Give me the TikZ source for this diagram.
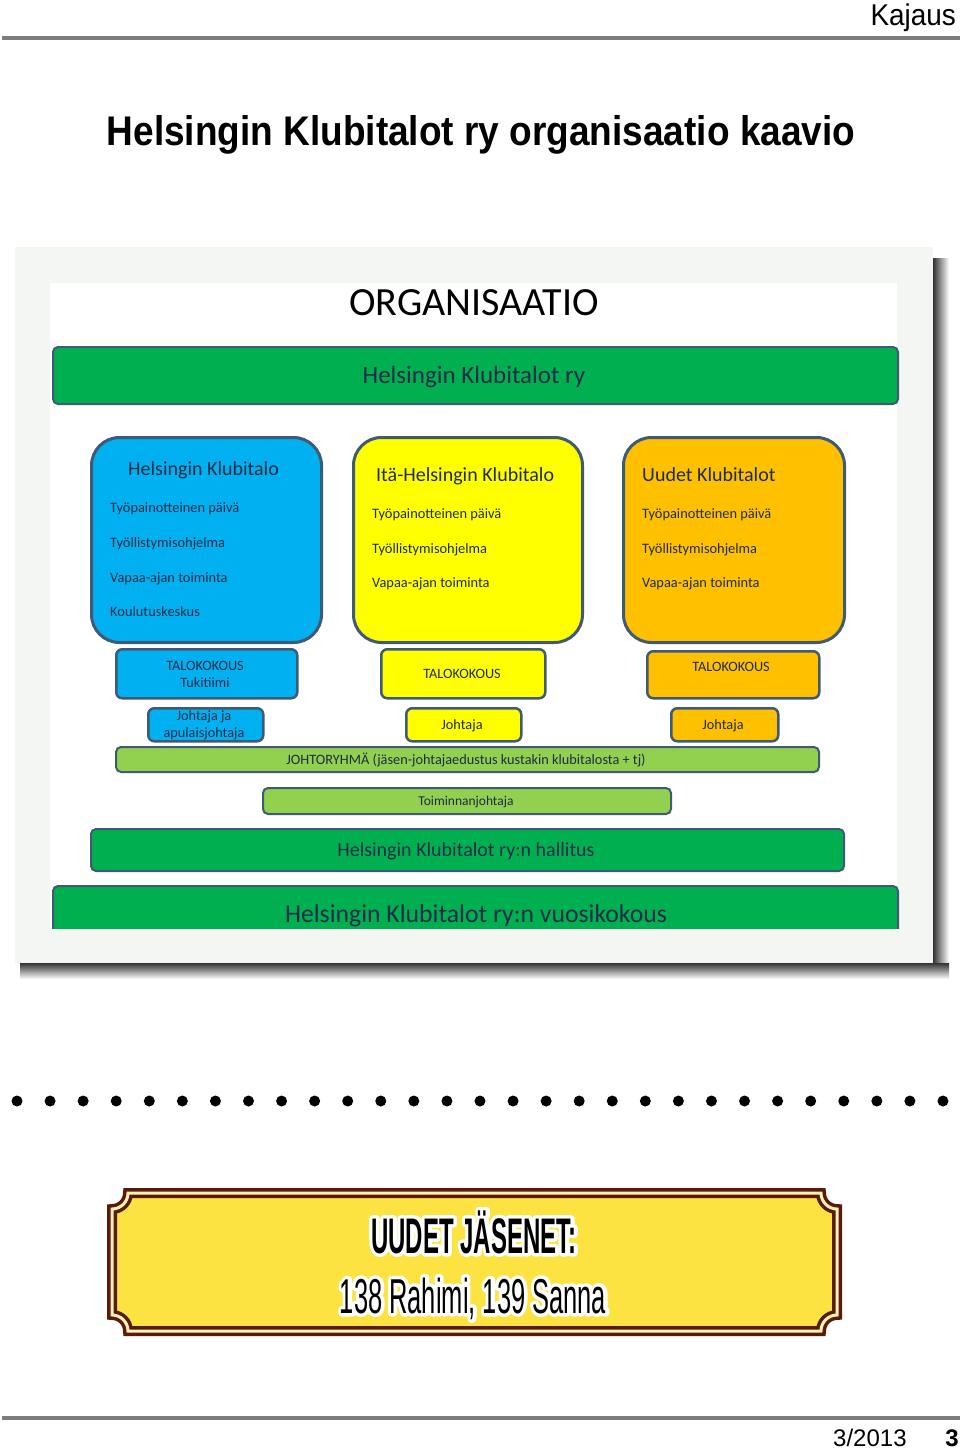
\documentclass[tikz,border=0pt]{standalone}
\usepackage{fontspec}
\setmainfont{Carlito}
\newfontfamily\heros{Liberation Sans}
\newfontfamily\narrowbold[FakeStretch=0.48]{Liberation Sans}
\newfontfamily\narrowsans[FakeStretch=0.52]{Liberation Sans}
\usetikzlibrary{calc}

\definecolor{clubblue}{HTML}{00B0F0}
\definecolor{clubyellow}{HTML}{FFFF00}
\definecolor{cluborange}{HTML}{FFC000}
\definecolor{darkgreen}{HTML}{00B050}
\definecolor{lightgreen}{HTML}{92D050}
\definecolor{edge}{HTML}{3E5A74}
\definecolor{ink}{HTML}{1E2C48}
\definecolor{rulegray}{HTML}{7C7C7C}
\definecolor{paper}{HTML}{F4F6F4}
\definecolor{plaquefill}{HTML}{FDE342}
\definecolor{plaqueedge}{HTML}{5A1A0C}
\definecolor{cream}{HTML}{FFF4B8}

% text with a white outline, set as one box
\newcommand{\haloed}[1]{\rlap{\color{white}\special{pdf:literal direct 1 1 1 RG 7 w 1 j 2 Tr}#1\special{pdf:literal direct 0 Tr}}#1}

\tikzset{
  club/.style={draw=edge, line width=3pt, rounded corners=28pt, anchor=north west, inner sep=0pt},
  meeting/.style={draw=edge, line width=2.5pt, rounded corners=6pt, anchor=north west, inner sep=0pt},
  bar/.style={draw=edge, line width=2pt, rounded corners=5pt, anchor=north west, inner sep=0pt},
  heading/.style={text=ink, font=\fontsize{20}{24}\selectfont, anchor=base west, inner sep=0pt},
  entry/.style={text=ink, font=\fontsize{14.4}{17}\selectfont, anchor=base west, inner sep=0pt},
  small/.style={text=ink, font=\fontsize{14.3}{17}\selectfont, align=center, inner sep=0pt}
}

\begin{document}
\begin{tikzpicture}[x=1pt, y=-1pt]

\useasboundingbox (0,0) rectangle (960,1451);

% Page head
\node[font=\heros\fontsize{30}{30}\selectfont, anchor=base east, inner sep=0pt] (head) at (956,25) {\scalebox{0.93}[1]{Kajaus}};
\draw[rulegray, line width=4pt] (2,38) -- (960,38);
\node[font=\heros\bfseries\fontsize{37}{40}\selectfont, anchor=base, inner sep=0pt] (title) at (481,145)
    {\scalebox{1}[1.12]{Helsingin Klubitalot ry organisaatio kaavio}};

% Shadow and frame
\shade[left color=black!80, right color=white] (933,258) rectangle (949,979);
\shade[top color=black!80, bottom color=white] (20,963) rectangle (949,979);
\fill[paper] (15,247) rectangle (933,963);
\fill[white] (50,283) rectangle (897,928);

\node[font=\fontsize{40}{44}\selectfont, anchor=base, inner sep=0pt] (org) at (474,315) {ORGANISAATIO};

% Top bar
\node[bar, fill=darkgreen, minimum width=845, minimum height=57] (ry) at (52,346) {};
\node[font=\fontsize{25}{28}\selectfont, text=ink, anchor=base, inner sep=0pt] (ryText) at (474,383) {Helsingin Klubitalot ry};

% Club houses
\node[club, fill=clubblue, minimum width=230, minimum height=205] (hk) at (90,436) {};
\node[club, fill=clubyellow, minimum width=229, minimum height=205] (ita) at (352,436) {};
\node[club, fill=cluborange, minimum width=221, minimum height=205] (uudet) at (622,436) {};

\node[heading] (hkTitle) at (128,475) {Helsingin Klubitalo};
\node[entry] (hkA) at (110,512) {Työpainotteinen päivä};
\node[entry] (hkB) at (110,547) {Työllistymisohjelma};
\node[entry] (hkC) at (110,582) {Vapaa-ajan toiminta};
\node[entry] (hkD) at (110,616) {Koulutuskeskus};

\node[heading] (itaTitle) at (376,481) {Itä-Helsingin Klubitalo};
\node[entry] (itaA) at (372,518) {Työpainotteinen päivä};
\node[entry] (itaB) at (372,553) {Työllistymisohjelma};
\node[entry] (itaC) at (372,587) {Vapaa-ajan toiminta};

\node[heading] (uudetTitle) at (642,481) {Uudet Klubitalot};
\node[entry] (uudetA) at (642,518) {Työpainotteinen päivä};
\node[entry] (uudetB) at (642,553) {Työllistymisohjelma};
\node[entry] (uudetC) at (642,587) {Vapaa-ajan toiminta};

% House meetings
\node[meeting, fill=clubblue, minimum width=181, minimum height=49] (hkMeet) at (115,648) {};
\node[meeting, fill=clubyellow, minimum width=164, minimum height=49] (itaMeet) at (380,648) {};
\node[meeting, fill=cluborange, minimum width=172, minimum height=47] (uudetMeet) at (646,650) {};
\node[small] (hkMeetText) at (205,674) {TALOKOKOUS\\Tukitiimi};
\node[small, anchor=base] (itaMeetText) at (462,678) {TALOKOKOUS};
\node[small, anchor=base] (uudetMeetText) at (731,671) {TALOKOKOUS};

% Leaders
\node[meeting, fill=clubblue, minimum width=115, minimum height=33] (hkLead) at (147,707) {};
\node[meeting, fill=clubyellow, minimum width=115, minimum height=33] (itaLead) at (405,707) {};
\node[meeting, fill=cluborange, minimum width=107, minimum height=33] (uudetLead) at (670,707) {};
\node[small] (hkLeadText) at (204,725) {Johtaja ja\\apulaisjohtaja};
\node[small, anchor=base] (itaLeadText) at (462,729) {Johtaja};
\node[small, anchor=base] (uudetLeadText) at (723,729) {Johtaja};

% Common bars
\node[bar, fill=lightgreen, minimum width=703, minimum height=25] (group) at (115,746) {};
\node[small, anchor=base] (groupText) at (466,764) {JOHTORYHMÄ (jäsen-johtajaedustus kustakin klubitalosta + tj)};
\node[bar, fill=lightgreen, minimum width=408, minimum height=26] (boss) at (262,787) {};
\node[small, anchor=base, font=\fontsize{13.5}{16}\selectfont] (bossText) at (466,805) {Toiminnanjohtaja};
\node[bar, fill=darkgreen, minimum width=753, minimum height=42] (board) at (90,828) {};
\node[text=ink, font=\fontsize{20}{24}\selectfont, anchor=base, inner sep=0pt] (boardText) at (466,856) {Helsingin Klubitalot ry:n hallitus};

\begin{scope}
  \clip (50,283) rectangle (899,928);
  \node[bar, fill=darkgreen, minimum width=845, minimum height=60] (annual) at (52,885) {};
  \node[text=ink, font=\fontsize{25.7}{28}\selectfont, anchor=base, inner sep=0pt] (annualText) at (476,922) {Helsingin Klubitalot ry:n vuosikokous};
\end{scope}

% Dotted divider
\foreach \i in {0,...,28}
  \fill (17+33.07*\i,1101) circle[radius=5.5];

% Plaque
\filldraw[fill=plaquefill, draw=plaqueedge, line width=3.5pt, double=cream, double distance=3pt]
  (128,1193) -- (821,1193) arc[start angle=180, end angle=90, radius=16]
  -- (837,1315) arc[start angle=270, end angle=180, radius=16]
  -- (128,1331) arc[start angle=0, end angle=-90, radius=16]
  -- (112,1209) arc[start angle=90, end angle=0, radius=16] -- cycle;

\node[font=\narrowbold\bfseries\fontsize{50}{50}\selectfont, inner sep=0pt, anchor=base] (members) at (474,1253) {\haloed{UUDET JÄSENET:}};
\node[font=\narrowsans\fontsize{49}{49}\selectfont, inner sep=0pt, anchor=base] (names) at (473,1313) {\haloed{138 Rahimi, 139 Sanna}};

% Page foot
\draw[rulegray, line width=4pt] (2,1418) -- (960,1418);
\node[font=\heros\fontsize{24}{24}\selectfont, anchor=base west, inner sep=0pt] (issue) at (833,1446) {3/2013};
\node[font=\heros\bfseries\fontsize{24}{24}\selectfont, anchor=base east, inner sep=0pt] (page) at (959,1446) {3};

\end{tikzpicture}
\end{document}
